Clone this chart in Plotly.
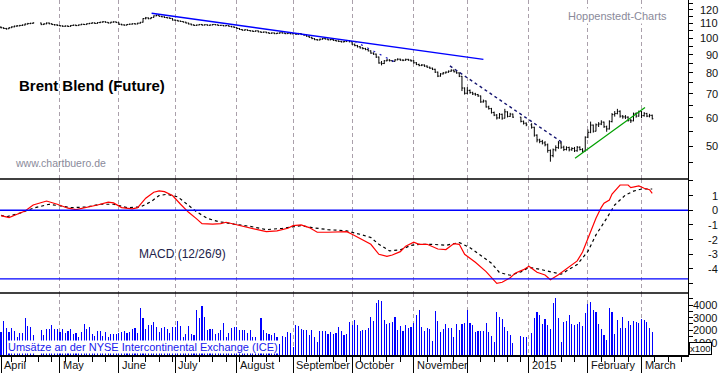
import numpy as np
import pandas as pd
import plotly.graph_objects as go
from plotly.subplots import make_subplots

# ---------------- calendar (weekday index) ----------------
dates = pd.bdate_range("2014-04-01", "2015-03-06")          # 244 trading days
axis_days = pd.bdate_range("2014-04-01", "2015-03-31")
month_labels = ["April", "May", "June", "July", "August", "September",
                "October", "November", "", "2015", "February", "March"]

# ---------------- price (USD / barrel) ----------------
price_open = [
    107.4, 107.0, 106.5, 106.3, 107.0, 107.6, 108.1, 108.3, 108.6, 108.9, 109.5, 109.9, 110.1, None, None, 110.3, 109.2, 109.7, 110.3, 109.8, 109.2, 109.0,
    108.6, 108.3, 108.0, 108.2, 107.9, 108.6, 108.8, 108.5, 109.0, 109.4, 109.2, 109.8, 110.1, 110.4, 110.0, 110.6, 110.9, 111.2, 110.8, 110.3, 110.9, 111.1,
    110.5, 109.4, 109.0, 108.8, 109.3, 109.5, 109.8, 109.6, 110.2, 110.9, 113.5, 114.0, 113.4, 114.3, 115.5, 115.9, 115.1, 114.8, 114.3, 114.0, 113.6,
    112.4, 112.2, 111.7, 111.4, 110.9, 110.3, 109.6, 109.0, 108.6, 108.9, 109.3, 108.8, 109.1, 108.7, 108.9, 109.3, 109.0, 108.6, 108.7, 108.3, 108.5, 108.0, 107.6,
    107.2, 106.5, 105.8, 105.3, 105.6, 105.1, 104.8, 104.5, 104.9, 104.2, 103.9, 104.1, 103.6, 103.2, 103.5, 103.0, 103.3, 103.6, 103.4, 103.0, 103.3,
    102.9, 103.0, 102.6, 103.1, 102.4, 102.0, 101.3, 100.6, 99.8, 99.1, 98.9, 99.4, 99.8, 99.5, 99.0, 99.2, 98.6, 98.3, 98.0, 97.7, 97.9, 98.5,
    97.8, 96.2, 95.4, 94.7, 94.0, 93.6, 93.0, 92.2, 90.9, 90.3, 88.6, 85.3, 85.0, 86.5, 86.9, 86.6, 86.2, 87.0, 87.4, 86.9, 86.8, 87.3, 86.9,
    86.5, 85.4, 84.5, 83.9, 84.2, 83.6, 83.0, 82.5, 81.9, 80.4, 78.4, 79.5, 80.0, 80.4, 80.9, 81.4, 80.6, 80.0, 78.3, 72.6,
    70.2, 71.5, 70.5, 69.9, 69.6, 69.0, 66.4, 66.8, 64.3, 63.6, 62.0, 61.0, 59.9, 61.3, 59.8, 62.3, 60.5, 61.4, None, None, 60.2, 58.6, 57.9,
    None, 57.3, 56.4, 53.6, 52.0, 51.5, 51.0, 50.4, 48.6, 47.0, 48.8, 49.5, 51.0, 49.6, 48.9, 49.5, 48.8, 49.2, 48.5, 49.6, 48.9, 48.4,
    52.9, 54.6, 57.2, 55.0, 57.3, 57.6, 58.3, 56.6, 55.8, 58.5, 61.2, 61.6, 62.5, 60.6, 60.3, 60.2, 59.0, 58.8, 61.5, 60.6,
    62.4, 60.8, 61.6, 60.6, 60.9,
]
price_high = [
    107.9, 107.3, 106.9, 107.4, 108.0, 108.5, 108.9, 109.0, 109.3, 110.0, 110.4, 110.5, 110.8, None, None, 110.5, 110.1, 110.7, 110.6, 110.1, 109.6, 109.4,
    108.9, 108.6, 108.6, 108.5, 108.9, 109.2, 109.1, 109.3, 109.8, 109.7, 110.1, 110.4, 110.8, 110.7, 110.9, 111.2, 111.6, 111.5, 111.0, 111.2, 111.5, 111.3,
    110.7, 109.8, 109.3, 109.6, 109.9, 110.1, 110.1, 110.5, 111.1, 113.8, 114.7, 114.3, 114.6, 115.8, 116.4, 116.0, 115.5, 115.1, 114.6, 114.3, 113.8,
    112.8, 112.5, 112.0, 111.6, 111.2, 110.5, 109.9, 109.3, 109.2, 109.6, 109.6, 109.4, 109.3, 109.2, 109.6, 109.5, 109.2, 109.0, 108.9, 108.8, 108.7, 108.3, 107.9,
    107.4, 106.8, 106.1, 105.9, 105.8, 105.4, 105.1, 105.2, 105.1, 104.5, 104.4, 104.3, 103.9, 103.8, 103.7, 103.6, 103.9, 103.9, 103.6, 103.6, 103.5,
    103.4, 103.3, 103.5, 103.3, 102.7, 102.3, 101.6, 100.9, 100.1, 99.5, 99.8, 100.2, 100.1, 99.8, 99.6, 99.5, 98.9, 98.6, 98.3, 98.3, 98.9, 98.8,
    98.0, 96.6, 95.8, 95.1, 94.4, 94.0, 93.3, 92.5, 91.3, 90.6, 88.9, 86.4, 86.9, 87.4, 87.4, 86.9, 87.4, 87.9, 87.7, 87.3, 87.7, 87.6, 87.2,
    86.9, 85.8, 84.9, 84.7, 84.5, 84.0, 83.3, 82.8, 82.2, 80.7, 79.9, 80.5, 80.8, 81.3, 81.9, 81.8, 80.9, 80.3, 78.5, 72.9,
    73.0, 71.9, 70.9, 70.4, 69.9, 69.2, 67.4, 67.0, 64.8, 63.9, 62.4, 61.4, 61.8, 61.6, 63.5, 62.5, 61.9, 61.6, None, None, 60.3, 58.9, 58.2,
    None, 57.9, 56.6, 53.9, 52.4, 52.0, 51.6, 50.8, 48.9, 49.2, 50.2, 51.6, 51.3, 50.1, 49.9, 49.8, 49.6, 49.7, 50.0, 49.9, 49.3, 53.2,
    55.6, 58.5, 57.4, 57.8, 58.3, 59.0, 58.5, 57.0, 59.0, 61.8, 62.6, 63.5, 62.9, 61.0, 61.0, 60.5, 59.5, 62.0, 62.1, 62.8,
    62.6, 62.2, 61.9, 61.5, 61.2,
]
price_low = [
    106.6, 106.1, 105.7, 106.1, 106.8, 107.3, 107.8, 108.0, 108.2, 108.6, 109.3, 109.5, 109.8, None, None, 108.8, 108.9, 109.4, 109.4, 108.9, 108.5, 108.2,
    107.9, 107.6, 107.7, 107.5, 107.6, 108.3, 108.1, 108.3, 108.8, 108.9, 109.0, 109.5, 109.8, 109.7, 109.8, 110.2, 110.6, 110.5, 110.0, 110.1, 110.6, 110.3,
    109.1, 108.7, 108.4, 108.6, 109.1, 109.2, 109.3, 109.4, 109.9, 110.6, 112.9, 113.0, 113.2, 114.1, 115.2, 114.9, 114.4, 113.9, 113.6, 113.2, 112.1,
    111.8, 111.4, 111.1, 110.6, 110.0, 109.3, 108.7, 108.2, 108.3, 108.7, 108.5, 108.6, 108.4, 108.5, 108.7, 108.7, 108.3, 108.3, 108.0, 108.1, 107.7, 107.3, 106.8,
    106.2, 105.5, 105.0, 105.0, 104.8, 104.5, 104.2, 104.3, 103.9, 103.6, 103.6, 103.3, 102.9, 102.9, 102.7, 102.8, 103.0, 103.1, 102.7, 102.8, 102.6,
    102.5, 102.2, 102.3, 102.1, 101.7, 101.0, 100.3, 99.4, 98.8, 98.5, 98.6, 99.1, 99.2, 98.7, 98.7, 98.3, 98.0, 97.6, 97.3, 97.4, 97.6, 97.4,
    95.9, 95.0, 94.2, 93.6, 93.1, 92.6, 91.9, 90.5, 89.9, 88.1, 84.9, 84.0, 84.7, 86.2, 86.1, 85.8, 86.0, 86.8, 86.5, 86.3, 86.5, 86.5, 86.0,
    85.0, 84.1, 83.5, 83.6, 83.2, 82.7, 82.1, 81.5, 80.0, 77.9, 78.1, 79.2, 79.7, 80.1, 80.6, 80.3, 79.6, 77.9, 71.2, 69.6,
    69.8, 70.0, 69.4, 69.1, 68.6, 66.0, 66.1, 64.0, 63.2, 61.6, 60.6, 59.3, 59.6, 59.2, 59.7, 60.1, 60.3, 59.9, None, None, 58.2, 57.4, 56.8,
    None, 55.9, 53.1, 51.2, 50.9, 50.5, 49.9, 47.9, 45.2, 46.5, 48.3, 49.1, 49.1, 48.4, 48.6, 48.3, 48.5, 48.1, 48.2, 48.6, 47.9, 48.3,
    52.6, 54.3, 54.5, 54.9, 56.5, 57.2, 56.2, 54.8, 55.6, 58.2, 60.4, 61.3, 60.0, 59.6, 59.5, 58.5, 58.0, 58.6, 60.0, 60.4,
    59.8, 60.4, 60.2, 60.1, 59.3,
]
price_close = [
    107.0, 106.5, 106.2, 107.0, 107.6, 108.1, 108.3, 108.6, 108.9, 109.6, 109.9, 110.1, 110.4, None, None, 109.2, 109.7, 110.3, 109.8, 109.2, 109.0, 108.6,
    108.3, 108.0, 108.2, 107.9, 108.6, 108.8, 108.5, 109.0, 109.4, 109.2, 109.8, 110.1, 110.4, 110.0, 110.6, 110.9, 111.2, 110.8, 110.3, 110.9, 111.1, 110.6,
    109.4, 109.0, 108.8, 109.3, 109.5, 109.8, 109.6, 110.2, 110.8, 113.5, 114.0, 113.4, 114.3, 115.5, 115.9, 115.1, 114.8, 114.3, 114.0, 113.6, 112.4,
    112.2, 111.7, 111.4, 110.9, 110.3, 109.6, 109.0, 108.6, 108.9, 109.3, 108.8, 109.1, 108.7, 108.9, 109.3, 109.0, 108.6, 108.7, 108.3, 108.5, 108.0, 107.6, 107.2,
    106.5, 105.8, 105.3, 105.6, 105.1, 104.8, 104.5, 104.9, 104.2, 103.9, 104.1, 103.6, 103.2, 103.5, 103.0, 103.3, 103.6, 103.4, 103.0, 103.3, 102.9,
    103.0, 102.6, 103.1, 102.4, 102.0, 101.3, 100.6, 99.8, 99.1, 98.9, 99.4, 99.8, 99.5, 99.0, 99.2, 98.6, 98.3, 98.0, 97.7, 97.9, 98.5, 97.8,
    96.2, 95.4, 94.7, 94.0, 93.6, 93.0, 92.2, 90.9, 90.3, 88.6, 85.3, 85.0, 86.5, 86.9, 86.6, 86.2, 87.0, 87.4, 86.9, 86.8, 87.3, 86.9, 86.5,
    85.4, 84.5, 83.9, 84.2, 83.6, 83.0, 82.5, 81.9, 80.4, 78.4, 79.5, 80.0, 80.4, 80.9, 81.4, 80.6, 80.0, 78.3, 72.6, 70.2,
    71.5, 70.5, 69.9, 69.6, 69.0, 66.4, 66.8, 64.3, 63.6, 62.0, 61.0, 59.9, 61.3, 59.8, 62.3, 60.5, 61.4, 60.2, None, None, 58.6, 57.9, 57.3,
    None, 56.4, 53.6, 52.0, 51.5, 51.0, 50.4, 48.6, 47.0, 48.8, 49.5, 51.0, 49.6, 48.9, 49.5, 48.8, 49.2, 48.5, 49.6, 48.9, 48.4, 52.9,
    54.6, 57.2, 55.0, 57.3, 57.6, 58.3, 56.6, 55.8, 58.5, 61.2, 61.6, 62.5, 60.6, 60.3, 60.2, 59.0, 58.8, 61.5, 60.6, 62.4,
    60.8, 61.6, 60.6, 60.9, 59.6,
]

# ---------------- volume (x100 contracts) ----------------
volume = [
    1867, 2720, 2133, 1867, 2187, 1947, 1467, 1733, 1787, 2933, 2320, 2267, 1600, None, None, 2000, 1600, 2053, 2053, 2400, 2053, 2053,
    1867, 2053, 1733, 1947, 2053, 1680, 1733, 1467, 1867, 2480, 2053, 2267, 1680, 1520, 1947, 1947, 1520, 1867, 1467, 1680, 1680, 1680,
    1787, 1867, 1947, 1787, 1867, 2053, 2133, 1733, 3787, 2933, 2053, 2400, 2400, 2640, 2267, 1867, 2133, 2267, 2053, 1733, 2213,
    2267, 2720, 2320, 1467, 1680, 2320, 1680, 1600, 3600, 2933, 3920, 3067, 2000, 2053, 2053, 1680, 1787, 2000, 2533, 1450, 1733, 2133, 2213,
    2213, 2000, 2000, 2000, 1733, 2000, 1467, 1467, 1100, 2933, 2000, 1733, 1680, 1600, 1787, 1467, 880, 1520, 1413, 1867, 1733,
    667, 2400, 2320, 2053, 2000, 2000, 1600, 2000, 1467, 1067, 1920, 1920, 1920, 1653, 1867, 1680, 1733, 2213, 1920, 1600, 1653, 2667,
    2400, 2800, 2400, 1947, 2000, 2000, 2187, 3067, 2720, 4187, 4400, 4320, 2800, 2453, 2533, 2613, 3067, 2000, 2320, 1920, 2400, 2187, 2267,
    2533, 3200, 3600, 2267, 1947, 2187, 2053, 1147, 3547, 2720, 1867, 2053, 2480, 2133, 2200, 1467, 2480, 2000, 2480, 2533,
    3600, 2533, 2400, 1840, 1920, 1920, 1920, 2533, 1840, 1520, 1040, 3440, 3040, 2907, 2240, 1920, 1600, 987, None, None, 1520, 1440, 1440,
    None, 1787, 2987, 3440, 3173, 2480, 2880, 2400, 2080, 4187, 4560, 2987, 1067, 2640, 2720, 3200, 2480, 2400, 2480, 2640, 2320, 3360,
    4080, 4240, 3600, 3440, 2480, 2053, 1600, 1200, 3760, 3440, 1680, 2800, 2160, 3040, 2160, 2720, 2400, 2747, 2640, 2560,
    2880, 2800, 2640, 2160, 1840,
]

# ---------------- MACD (12/26/9) ----------------
macd_day = [0, 3, 6, 9, 12, 15, 17, 21, 25, 28, 32, 36, 40, 42, 45, 49, 51, 54, 57, 59, 61, 64, 67, 70, 73, 75,
            79, 82, 84, 87, 90, 94, 99, 103, 107, 109, 112, 115, 118, 122, 129, 131, 134, 138, 141, 144, 146,
            149, 151, 154, 156, 159, 163, 166, 169, 171, 173, 177, 181, 184, 185, 187, 190, 192, 195, 197, 200,
            203, 205, 208, 211, 215, 217, 219, 221, 222, 224, 225, 227, 228, 231, 234, 235, 238, 240, 242, 243]
macd_line = [-0.37, -0.5, -0.27, -0.05, 0.36, 0.55, 0.63, 0.41, 0.14, 0.04, 0.18, 0.36, 0.55, 0.5, 0.18, 0.09, 0.18,
             0.82, 1.23, 1.32, 1.27, 1.0, 0.41, -0.14, -0.59, -0.91, -0.95, -0.91, -0.82, -0.95, -1.09, -1.23,
             -1.46, -1.41, -1.23, -1.05, -1.0, -1.18, -1.5, -1.5, -1.46, -1.64, -1.93, -2.32, -3.0, -3.14, -3.05,
             -2.82, -2.45, -2.18, -2.32, -2.32, -2.64, -2.68, -2.27, -2.32, -3.0, -3.54, -4.18, -4.82, -4.98,
             -4.91, -4.6, -4.27, -4.05, -3.82, -4.23, -4.41, -4.73, -4.4, -4.0, -3.45, -2.85, -1.9, -1.0, -0.55,
             0.2, 0.48, 0.7, 1.1, 1.72, 1.72, 1.54, 1.66, 1.5, 1.4, 1.15]
signal_day = [0, 2, 7, 12, 18, 22, 26, 32, 37, 42, 47, 52, 56, 59, 62, 66, 69, 73, 77, 81, 87, 93, 99, 105, 112,
              116, 122, 129, 134, 138, 141, 145, 149, 153, 156, 161, 166, 171, 175, 179, 183, 186, 190, 194,
              197, 201, 206, 209, 212, 215, 219, 222, 226, 229, 233, 236, 239, 243]
signal_line = [-0.35, -0.45, -0.2, 0.14, 0.41, 0.32, 0.18, 0.22, 0.41, 0.41, 0.18, 0.22, 0.59, 1.0, 1.09, 0.91,
               0.45, -0.11, -0.55, -0.77, -0.95, -1.1, -1.32, -1.23, -1.05, -1.18, -1.32, -1.41, -1.64, -1.86,
               -2.32, -2.77, -2.7, -2.39, -2.32, -2.32, -2.39, -2.2, -2.55, -3.07, -3.61, -4.25, -4.43, -4.2,
               -3.89, -4.02, -4.25, -4.36, -4.02, -3.7, -2.8, -1.68, -0.55, 0.36, 1.04, 1.3, 1.45, 1.45]
macd_low_mark = -4.68

# ---------------- trend lines (day, price) ----------------
trend_down_day = [56.2, 180.0]
trend_down_price = [117.4, 87.3]
trend_dot1_day = [132.0, 148.0]
trend_dot1_price = [98.0, 85.0]
trend_dot2_day = [167.5, 209.7]
trend_dot2_price = [83.7, 51.0]
trend_up_day = [214.2, 240.3]
trend_up_price = [46.2, 64.1]
reference_level = 112.0

price_ticks = [50, 60, 70, 80, 90, 100, 110, 120]
macd_ticks = [1, 0, -1, -2, -3, -4]
volume_ticks = [1000, 2000, 3000, 4000]

# ---------------- derived positions ----------------
day = np.arange(len(dates))
ad = pd.Series(axis_days)
month_start = [int(i) for i in ad.groupby([ad.dt.year, ad.dt.month]).apply(lambda s: s.index[0]).values][:12]
mondays = [int(i) for i in np.where(axis_days.weekday == 0)[0]]

FONT = "Liberation Sans, Arial, sans-serif"
GRID = "#aaa0ab"
W, H = 723, 373
ML, MR, MT, MB = 0, 35, 0, 18
PW, PH = W - ML - MR, H - MT - MB
DX = 2.68  # pixels per trading day in the reference

fig = make_subplots(rows=3, cols=1, shared_xaxes=True, vertical_spacing=0)

fig.add_trace(go.Ohlc(x=day, open=price_open, high=price_high, low=price_low, close=price_close,
                      increasing_line_color="black", decreasing_line_color="black",
                      line_width=1, tickwidth=0.4, hoverinfo="skip"), row=1, col=1)
fig.add_trace(go.Scatter(x=trend_down_day, y=trend_down_price, mode="lines",
                         line=dict(color="#0000ff", width=1.5)), row=1, col=1)
fig.add_trace(go.Scatter(x=trend_dot1_day, y=trend_dot1_price, mode="lines",
                         line=dict(color="#2020c0", width=1.2, dash="2px,5px")), row=1, col=1)
fig.add_trace(go.Scatter(x=trend_dot2_day, y=trend_dot2_price, mode="lines",
                         line=dict(color="#141470", width=1.4, dash="3px,3px")), row=1, col=1)
fig.add_trace(go.Scatter(x=trend_up_day, y=trend_up_price, mode="lines",
                         line=dict(color="#00a000", width=1.2)), row=1, col=1)

fig.add_trace(go.Scatter(x=signal_day, y=signal_line, mode="lines",
                         line=dict(color="black", width=1.2, dash="3px,3px")), row=2, col=1)
fig.add_trace(go.Scatter(x=macd_day, y=macd_line, mode="lines",
                         line=dict(color="#ff0000", width=1.2)), row=2, col=1)

fig.add_trace(go.Bar(x=day, y=volume, width=0.42, marker_color="#0000ff",
                     marker_line_width=0), row=3, col=1)

x_range = [-1 / DX, (PW - 1) / DX]
p_dom = [(PH - 179) / PH, 1.0]
m_dom = [(PH - 293) / PH, (PH - 179) / PH]
v_dom = [0.0, (PH - 293) / PH]

common_x = dict(range=x_range, tickmode="array", tickvals=month_start, showgrid=True,
                gridcolor=GRID, griddash="4px,3px", gridwidth=1, zeroline=False,
                showticklabels=False, rangeslider=dict(visible=False))
fig.update_layout(
    xaxis=dict(**common_x, ticks=""),
    xaxis2=dict(**common_x, ticks=""),
    xaxis3=dict(**common_x, ticks="outside", ticklen=18, tickcolor="black", tickwidth=1,
                showline=True, linecolor="black", linewidth=1.5,
                minor=dict(tickmode="array", tickvals=mondays, ticks="outside", ticklen=5,
                           tickcolor="black", tickwidth=1, showgrid=False)),
    yaxis=dict(domain=p_dom, type="log", range=[np.log10(40.44), np.log10(127.9)], side="right",
               showgrid=False, zeroline=False, showline=True, linecolor="black", linewidth=1,
               tickmode="array", tickvals=list(range(45, 130, 5)), ticks="outside", ticklen=4,
               tickcolor="black", showticklabels=False),
    yaxis2=dict(domain=m_dom, range=[-5.64, 2.13], side="right", showgrid=False, zeroline=False,
                showline=True, linecolor="black", linewidth=1, tickmode="array",
                tickvals=list(range(-5, 3)), ticks="outside", ticklen=4, tickcolor="black",
                showticklabels=False),
    yaxis3=dict(domain=v_dom, range=[0, 4960], side="right", showgrid=False, zeroline=False,
                showline=True, linecolor="black", linewidth=1, tickmode="array",
                tickvals=list(range(500, 5000, 500)), ticks="outside", ticklen=4, tickcolor="black",
                showticklabels=False),
    width=W, height=H, margin=dict(l=ML, r=MR, t=MT, b=MB),
    paper_bgcolor="white", plot_bgcolor="white", showlegend=False,
    font=dict(family=FONT, size=11, color="#111111"), bargap=0,
)
fig.update_xaxes(rangeslider_visible=False)

shapes = [
    dict(type="line", xref="paper", yref="y", x0=0, x1=1,
         y0=np.log10(reference_level), y1=np.log10(reference_level),
         line=dict(color=GRID, width=1, dash="4px,3px"), layer="below"),
    dict(type="line", xref="paper", yref="y2", x0=0, x1=1, y0=0, y1=0,
         line=dict(color="#0000ff", width=1.3)),
    dict(type="line", xref="paper", yref="y2", x0=0, x1=1, y0=macd_low_mark, y1=macd_low_mark,
         line=dict(color="#0000ff", width=1.3)),
    dict(type="line", xref="paper", yref="paper", x0=0, x1=1, y0=p_dom[0], y1=p_dom[0],
         line=dict(color="black", width=1.5)),
    dict(type="line", xref="paper", yref="paper", x0=0, x1=1, y0=v_dom[1], y1=v_dom[1],
         line=dict(color="black", width=1.5)),
]
fig.update_layout(shapes=shapes)

ann = []
for v in price_ticks:
    ann.append(dict(xref="paper", yref="y", x=1, y=np.log10(v), xanchor="right", yanchor="middle",
                    xshift=32, text=str(v), showarrow=False, font=dict(size=11, color="#111111")))
for v in macd_ticks:
    ann.append(dict(xref="paper", yref="y2", x=1, y=v, xanchor="right", yanchor="middle",
                    xshift=32, text=str(v), showarrow=False, font=dict(size=11, color="#111111")))
for v in volume_ticks:
    ann.append(dict(xref="paper", yref="y3", x=1, y=v, xanchor="left", yanchor="middle",
                    xshift=3, text=str(v), showarrow=False, font=dict(size=11, color="#111111")))
ann.append(dict(xref="paper", yref="paper", x=1, y=0, xanchor="left", yanchor="bottom", xshift=1,
                text="x100", showarrow=False, font=dict(size=9.5, color="#111111"),
                bgcolor="white", bordercolor="black", borderwidth=1, borderpad=0))
for pos, lab in zip(month_start, month_labels):
    if lab:
        ann.append(dict(xref="x3", yref="paper", x=pos, y=0, xanchor="left", yanchor="top",
                        xshift=1, yshift=-2, text=lab, showarrow=False,
                        font=dict(size=11, color="#111111")))
ann += [
    dict(xref="paper", yref="paper", x=17 / PW, y=1 - 85 / PH, xanchor="left", yanchor="middle",
         text="<b>Brent Blend (Future)</b>", showarrow=False, font=dict(size=15, color="black")),
    dict(xref="paper", yref="paper", x=13 / PW, y=1 - 163 / PH, xanchor="left", yanchor="middle",
         text="www.chartbuero.de", showarrow=False, font=dict(size=10.5, color="#8a8a9a")),
    dict(xref="paper", yref="paper", x=617 / PW, y=1 - 16 / PH, xanchor="center", yanchor="middle",
         text="Hoppenstedt-Charts", showarrow=False, font=dict(size=11, color="#8a8a9a"),
         bgcolor="white", borderpad=1),
    dict(xref="paper", yref="paper", x=137 / PW, y=1 - 254 / PH, xanchor="left", yanchor="middle",
         text="MACD (12/26/9)", showarrow=False, font=dict(size=12, color="#22224a")),
    dict(xref="paper", yref="paper", x=7 / PW, y=1 - 347 / PH, xanchor="left", yanchor="middle",
         text="Umsätze an der NYSE Intercontinental Exchange (ICE)", showarrow=False,
         font=dict(size=11, color="#2020ee"), bgcolor="white", borderpad=0),
]
fig.update_layout(annotations=ann)

fig.write_html("out.html", config={"displayModeBar": False, "staticPlot": True},
               post_script="document.body.style.margin='0px';document.body.style.overflow='hidden';")
